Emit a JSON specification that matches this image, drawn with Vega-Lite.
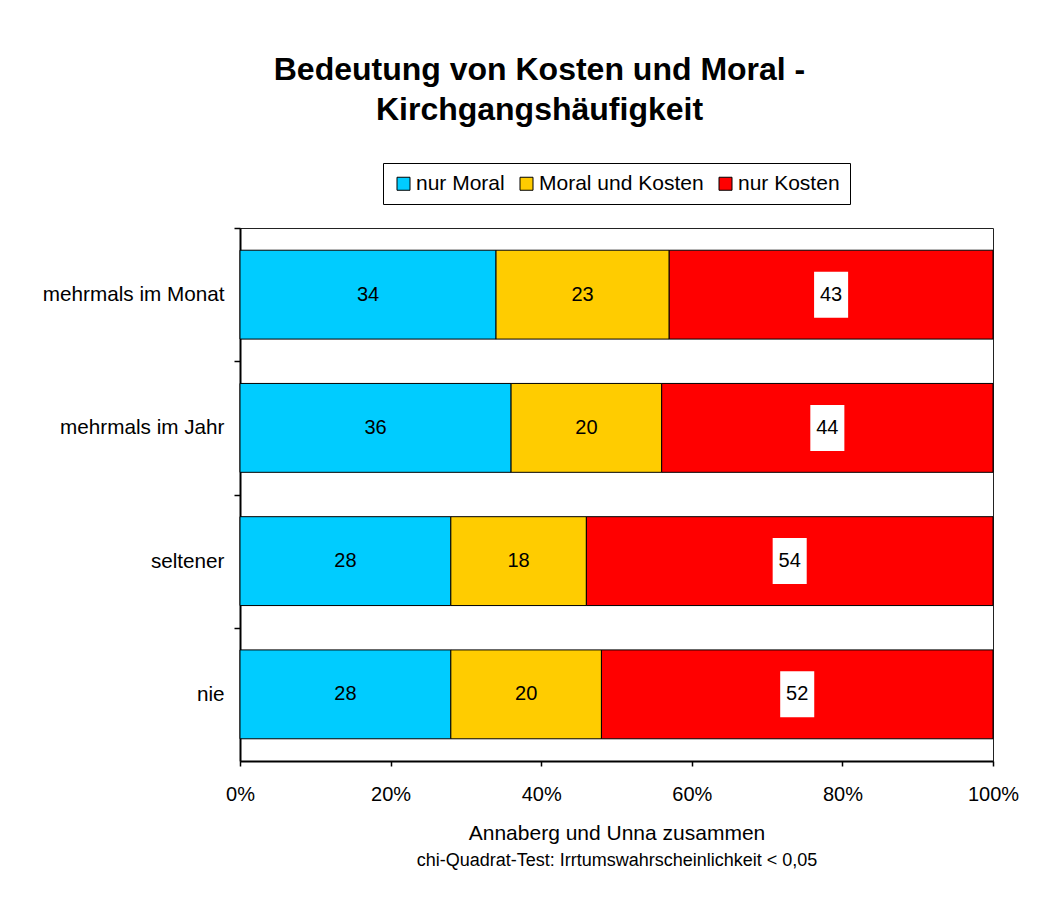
{
  "$schema": "https://vega.github.io/schema/vega-lite/v6.json",
  "width": 753,
  "height": 533,
  "autosize": {"type": "none"},
  "padding": {"left": 240, "top": 228, "right": 63, "bottom": 150},
  "background": "white",
  "config": {
    "view": {"stroke": "#222222", "strokeWidth": 1},
    "font": "Liberation Sans"
  },
  "title": {
    "text": ["Bedeutung von Kosten und Moral -", "Kirchgangshäufigkeit"],
    "fontSize": 32,
    "fontWeight": "bold",
    "font": "Liberation Sans",
    "color": "black",
    "anchor": "middle",
    "frame": "group",
    "dx": -77,
    "lineHeight": 40,
    "offset": 36
  },
  "data": {
    "values": [
      {"cat": "mehrmals im Monat", "type": "nur Moral", "value": 34},
      {"cat": "mehrmals im Monat", "type": "Moral und Kosten", "value": 23},
      {"cat": "mehrmals im Monat", "type": "nur Kosten", "value": 43},
      {"cat": "mehrmals im Jahr", "type": "nur Moral", "value": 36},
      {"cat": "mehrmals im Jahr", "type": "Moral und Kosten", "value": 20},
      {"cat": "mehrmals im Jahr", "type": "nur Kosten", "value": 44},
      {"cat": "seltener", "type": "nur Moral", "value": 28},
      {"cat": "seltener", "type": "Moral und Kosten", "value": 18},
      {"cat": "seltener", "type": "nur Kosten", "value": 54},
      {"cat": "nie", "type": "nur Moral", "value": 28},
      {"cat": "nie", "type": "Moral und Kosten", "value": 20},
      {"cat": "nie", "type": "nur Kosten", "value": 52}
    ]
  },
  "transform": [
    {"calculate": "indexof(['nur Moral','Moral und Kosten','nur Kosten'], datum.type)", "as": "k"},
    {"stack": "value", "groupby": ["cat"], "sort": [{"field": "k", "order": "ascending"}], "as": ["v0", "v1"]},
    {"calculate": "(datum.v0 + datum.v1) / 2", "as": "mid"}
  ],
  "encoding": {
    "y": {
      "field": "cat",
      "type": "nominal",
      "sort": ["mehrmals im Monat", "mehrmals im Jahr", "seltener", "nie"],
      "scale": {"paddingInner": 0.333, "paddingOuter": 0.1667},
      "axis": {
        "title": null,
        "labelFontSize": 20.7,
        "labelColor": "black",
        "labelPadding": 10,
        "labelLimit": 300,
        "labelOffset": 66.6,
        "tickSize": 6,
        "tickColor": "black",
        "tickWidth": 1.5,
        "tickOffset": -66.6,
        "domainColor": "black",
        "domainWidth": 2
      }
    }
  },
  "layer": [
    {
      "mark": {"type": "bar", "stroke": "black", "strokeWidth": 1, "opacity": 1},
      "encoding": {
        "x": {
          "field": "v0",
          "type": "quantitative",
          "scale": {"domain": [0, 100], "nice": false},
          "axis": {
            "values": [0, 20, 40, 60, 80, 100],
            "labelExpr": "datum.value + '%'",
            "labelFontSize": 20,
            "labelColor": "black",
            "labelFlush": false,
            "labelPadding": 18,
            "tickSize": 5,
            "tickColor": "black",
            "tickWidth": 1.5,
            "domainColor": "black",
            "domainWidth": 2,
            "grid": false,
            "title": "Annaberg und Unna zusammen",
            "titleFontSize": 21,
            "titleFontWeight": "normal",
            "titleColor": "black",
            "titlePadding": 18
          }
        },
        "x2": {"field": "v1"},
        "color": {
          "field": "type",
          "type": "nominal",
          "scale": {
            "domain": ["nur Moral", "Moral und Kosten", "nur Kosten"],
            "range": ["#00CCFF", "#FFCC00", "#FF0000"]
          },
          "legend": {
            "orient": "none",
            "legendX": 143,
            "legendY": -65,
            "direction": "horizontal",
            "title": null,
            "strokeColor": "black",
            "fillColor": "white",
            "padding": 10,
            "labelFontSize": 21,
            "labelColor": "black",
            "labelLimit": 400,
            "labelOffset": 2,
            "columnPadding": 11,
            "symbolType": "square",
            "symbolSize": 169,
            "symbolStrokeColor": "black",
            "symbolStrokeWidth": 1,
            "symbolOpacity": 1
          }
        }
      }
    },
    {
      "transform": [{"filter": "datum.type === 'nur Kosten'"}],
      "mark": {
        "type": "point",
        "shape": "M-0.74,-1L0.74,-1L0.74,1L-0.74,1Z",
        "size": 2116,
        "filled": true,
        "color": "white",
        "opacity": 1,
        "strokeWidth": 0
      },
      "encoding": {
        "x": {
          "field": "mid",
          "type": "quantitative",
          "scale": {"domain": [0, 100], "nice": false, "zero": true},
          "axis": {
            "orient": "bottom",
            "labels": false,
            "ticks": false,
            "domain": false,
            "grid": false,
            "title": "chi-Quadrat-Test: Irrtumswahrscheinlichkeit < 0,05",
            "titleFontSize": 18,
            "titleFontWeight": "normal",
            "titleColor": "black",
            "titlePadding": 90
          }
        }
      }
    },
    {
      "mark": {"type": "text", "fontSize": 20, "color": "black", "baseline": "middle", "align": "center"},
      "encoding": {
        "x": {
          "field": "mid",
          "type": "quantitative",
          "scale": {"domain": [0, 100], "nice": false, "zero": true},
          "axis": null
        },
        "text": {"field": "value", "type": "quantitative"}
      }
    }
  ],
  "resolve": {"scale": {"x": "independent"}}
}
